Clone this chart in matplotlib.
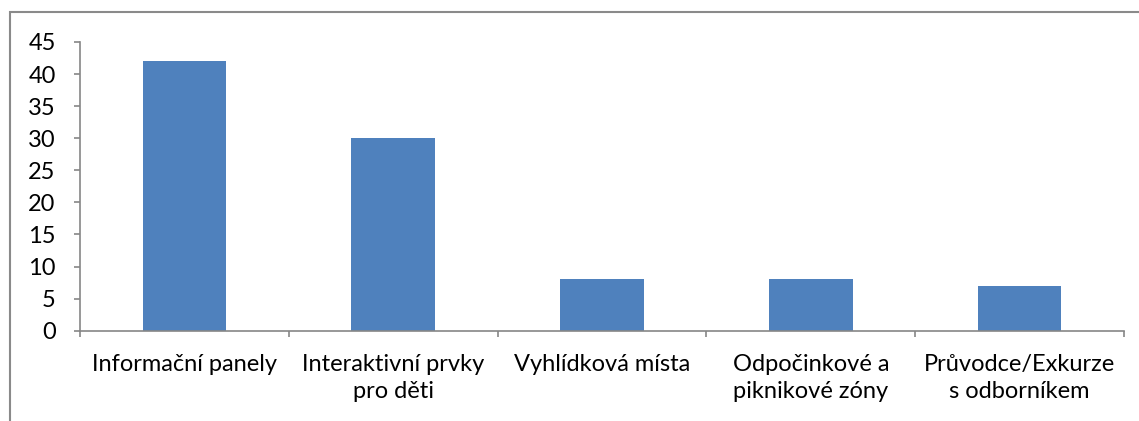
import matplotlib
matplotlib.use("Agg")
import matplotlib.pyplot as plt
from matplotlib.patches import Rectangle

categories = ["Informační panely", "Interaktivní prvky\npro děti", "Vyhlídková místa",
              "Odpočinkové a\npiknikové zóny", "Průvodce/Exkurze\ns odborníkem"]
values = [42, 30, 8, 8, 7]
yticks = [0, 5, 10, 15, 20, 25, 30, 35, 40, 45]

W, H = 1139, 421
fig = plt.figure(figsize=(W / 100, H / 100), dpi=100)
plt.rcParams['font.family'] = ['Lato', 'DejaVu Sans']

ax = fig.add_axes([80 / W, 1 - 330.7 / H, (1124 - 80) / W, (330.7 - 42) / H])
x = list(range(len(categories)))
ax.bar(x, values, width=0.4, color="#4F81BD")
ax.set_xlim(-0.5, len(categories) - 0.5)
ax.set_ylim(0, 45)
ax.set_yticks(yticks)
ax.set_yticklabels([str(v) for v in yticks], fontsize=17)
ax.set_xticks(x)
ax.set_xticklabels(categories, fontsize=17, linespacing=1.32, va="top")
ax.set_xticks([i - 0.5 for i in range(len(categories) + 1)], minor=True)
ax.tick_params(axis="x", which="major", length=0, pad=17)
ax.tick_params(axis="x", which="minor", length=4.5, color="#868686", width=1.2, direction="out")
ax.tick_params(axis="y", length=4.5, color="#868686", width=1.2, direction="out", pad=13)
for s in ["top", "right"]:
    ax.spines[s].set_visible(False)
for s in ["left", "bottom"]:
    ax.spines[s].set_color("#868686")
    ax.spines[s].set_linewidth(1.2)

fig.patches.append(Rectangle((10 / W, -0.2), 1.2, (H - 12) / H + 0.2, transform=fig.transFigure,
                             fill=False, edgecolor="#8a8a8a", linewidth=1.5))

fig.savefig("out.png", dpi=100)
